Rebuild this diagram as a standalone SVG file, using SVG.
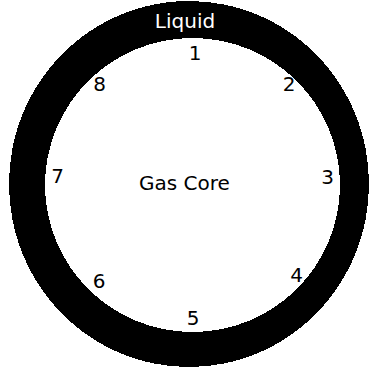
<svg xmlns="http://www.w3.org/2000/svg" width="371" height="373" viewBox="0 0 371 373">
  <style>
    .lbl { font-family: "DejaVu Sans", Verdana, sans-serif; font-size: 20px; text-anchor: middle; fill: #000; }
    .white { fill: #fff; }
  </style>
  <rect x="0" y="0" width="371" height="373" fill="#fff"/>
  <g id="liquid-ring">
    <path fill="#000" fill-rule="evenodd" shape-rendering="crispEdges"
      d="M 9 184 A 180 183 0 1 0 369 184 A 180 183 0 1 0 9 184 Z
         M 45 185 A 147.5 147 0 1 0 340 185 A 147.5 147 0 1 0 45 185 Z"/>
    <text class="lbl white" x="185" y="28">Liquid</text>
  </g>
  <g id="gas-core">
    <text class="lbl" x="184.5" y="190">Gas Core</text>
  </g>
  <g id="positions">
    <text class="lbl" x="195" y="60">1</text>
    <text class="lbl" x="289" y="91">2</text>
    <text class="lbl" x="327.5" y="184">3</text>
    <text class="lbl" x="296.5" y="282">4</text>
    <text class="lbl" x="193" y="325">5</text>
    <text class="lbl" x="99" y="288">6</text>
    <text class="lbl" x="57.5" y="183">7</text>
    <text class="lbl" x="99.5" y="91">8</text>
  </g>
</svg>
